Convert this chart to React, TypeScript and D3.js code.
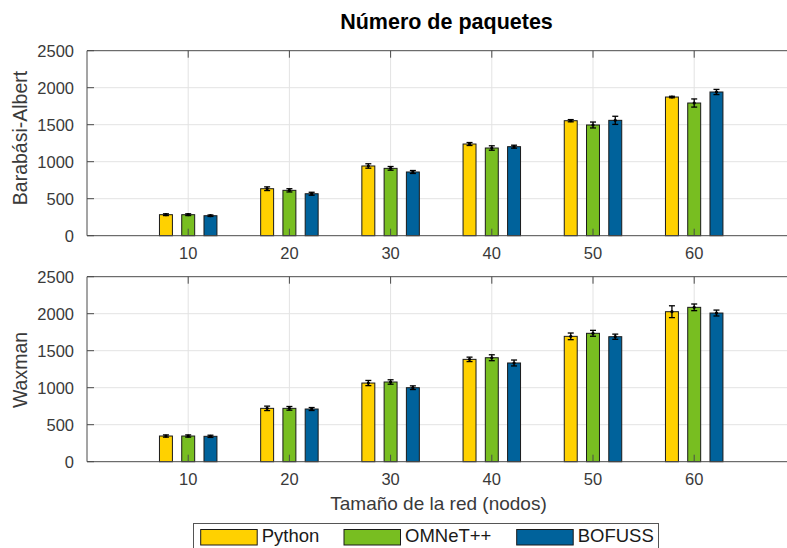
import React from "react";
import * as d3 from "d3";

const categories = [10, 20, 30, 40, 50, 60];
const seriesNames = ["Python", "OMNeT++", "BOFUSS"];
const seriesColors = ["#FFD100", "#78BE21", "#00629B"];

const baPython = [284, 635, 942, 1239, 1554, 1874];
const baOmnet = [284, 613, 910, 1185, 1496, 1793];
const baBofuss = [270, 567, 861, 1203, 1559, 1942];
const baPythonErr = [12, 25, 30, 20, 15, 10];
const baOmnetErr = [12, 22, 25, 30, 40, 55];
const baBofussErr = [10, 20, 20, 20, 55, 35];

const wxPython = [347, 721, 1063, 1383, 1694, 2027];
const wxOmnet = [347, 721, 1077, 1405, 1735, 2086];
const wxBofuss = [343, 712, 1000, 1334, 1689, 2009];
const wxPythonErr = [15, 30, 35, 30, 45, 80];
const wxOmnetErr = [15, 25, 30, 40, 40, 45];
const wxBofussErr = [15, 20, 25, 40, 35, 40];

const yTicks = [0, 500, 1000, 1500, 2000, 2500];

const FONT = "'Liberation Sans', Arial, Helvetica, sans-serif";

const panels = [
  { label: "Barabási-Albert", top: 50.7, bottom: 235.7, labelY: 138, values: [baPython, baOmnet, baBofuss], errs: [baPythonErr, baOmnetErr, baBofussErr] },
  { label: "Waxman", top: 276.7, bottom: 461.7, labelY: 370, values: [wxPython, wxOmnet, wxBofuss], errs: [wxPythonErr, wxOmnetErr, wxBofussErr] },
];

const x = d3.scaleLinear().domain([0, 70]).range([87, 795.4]);
const offsets = [-2.2, 0, 2.2];
const barW = 1.28;

function Panel({ p }: { p: typeof panels[0] }) {
  const y = d3.scaleLinear().domain([0, 2500]).range([p.bottom, p.top]);
  const x0 = x.range()[0];
  const x1 = x.range()[1];
  const axisColor = "#4a4a4a";
  return (
    <g>
      {yTicks.slice(1, -1).map((t) => (
        <line key={"gy" + t} x1={x0} x2={x1} y1={y(t)} y2={y(t)} stroke="#e3e3e3" strokeWidth={1} />
      ))}
      {categories.map((c) => (
        <line key={"gx" + c} x1={x(c)} x2={x(c)} y1={p.top} y2={p.bottom} stroke="#e3e3e3" strokeWidth={1} />
      ))}
      {p.values.map((vals, si) =>
        vals.map((v, i) => {
          const cx = categories[i] + offsets[si];
          const xl = x(cx - barW / 2);
          const xr = x(cx + barW / 2);
          return (
            <rect key={si + "-" + i} x={xl} y={y(v)} width={xr - xl} height={y(0) - y(v)}
              fill={seriesColors[si]} stroke="#1a1a1a" strokeWidth={1} />
          );
        })
      )}
      {p.values.map((vals, si) =>
        vals.map((v, i) => {
          const cx = x(categories[i] + offsets[si]);
          const e = p.errs[si][i];
          return (
            <g key={"e" + si + "-" + i} stroke="#000" strokeWidth={1.3}>
              <line x1={cx} x2={cx} y1={y(v - e)} y2={y(v + e)} />
              <line x1={cx - 3} x2={cx + 3} y1={y(v - e)} y2={y(v - e)} />
              <line x1={cx - 3} x2={cx + 3} y1={y(v + e)} y2={y(v + e)} />
              <circle cx={cx} cy={y(v)} r={1.6} fill="#000" stroke="none" />
            </g>
          );
        })
      )}
      <line x1={x0} x2={x1} y1={p.top} y2={p.top} stroke={axisColor} strokeWidth={1} />
      <line x1={x0} x2={x1} y1={p.bottom} y2={p.bottom} stroke={axisColor} strokeWidth={1} />
      <line x1={x0} x2={x0} y1={p.top} y2={p.bottom} stroke={axisColor} strokeWidth={1} />
      {yTicks.map((t) => (
        <g key={"yt" + t}>
          <line x1={x0} x2={x0 + 7} y1={y(t)} y2={y(t)} stroke={axisColor} strokeWidth={1} />
          <text x={x0 - 13} y={y(t) + 6.3} textAnchor="end" fontFamily={FONT} fontSize={16.5} fill="#3a3a3a">{t}</text>
        </g>
      ))}
      {categories.map((c) => (
        <g key={"xt" + c}>
          <line x1={x(c)} x2={x(c)} y1={p.bottom} y2={p.bottom - 7} stroke={axisColor} strokeWidth={1} />
          <line x1={x(c)} x2={x(c)} y1={p.top} y2={p.top + 7} stroke={axisColor} strokeWidth={1} />
          <text x={x(c)} y={p.bottom + 23.5} textAnchor="middle" fontFamily={FONT} fontSize={16.5} fill="#3a3a3a">{c}</text>
        </g>
      ))}
      <text transform={`translate(26.5,${p.labelY}) rotate(-90)`} textAnchor="middle"
        fontFamily={FONT} fontSize={19.5} fill="#3a3a3a">{p.label}</text>
    </g>
  );
}

export default function App() {
  const legendX = [200.7, 344, 516.7];
  return (
    <svg width={787} height={548} style={{ position: "absolute", left: 0, top: 0, background: "#fff" }}>
      <rect x={0} y={0} width={787} height={548} fill="#fff" />
      <text x={446.5} y={28.5} textAnchor="middle" fontFamily={FONT} fontWeight="bold" fontSize={21.5} fill="#000">Número de paquetes</text>
      {panels.map((p) => <Panel key={p.label} p={p} />)}
      <text x={438.5} y={510} textAnchor="middle" fontFamily={FONT} fontSize={19} fill="#3a3a3a">Tamaño de la red (nodos)</text>
      <rect x={193.5} y={523.5} width={465} height={30} fill="#fff" stroke="#555" strokeWidth={1} />
      {seriesNames.map((s, i) => (
        <g key={s}>
          <rect x={legendX[i]} y={529.5} width={56.5} height={15.5} fill={seriesColors[i]} stroke="#1a1a1a" strokeWidth={1} />
          <text x={legendX[i] + 61} y={542.3} fontFamily={FONT} fontSize={18.5} fill="#1a1a1a">{s}</text>
        </g>
      ))}
    </svg>
  );
}
